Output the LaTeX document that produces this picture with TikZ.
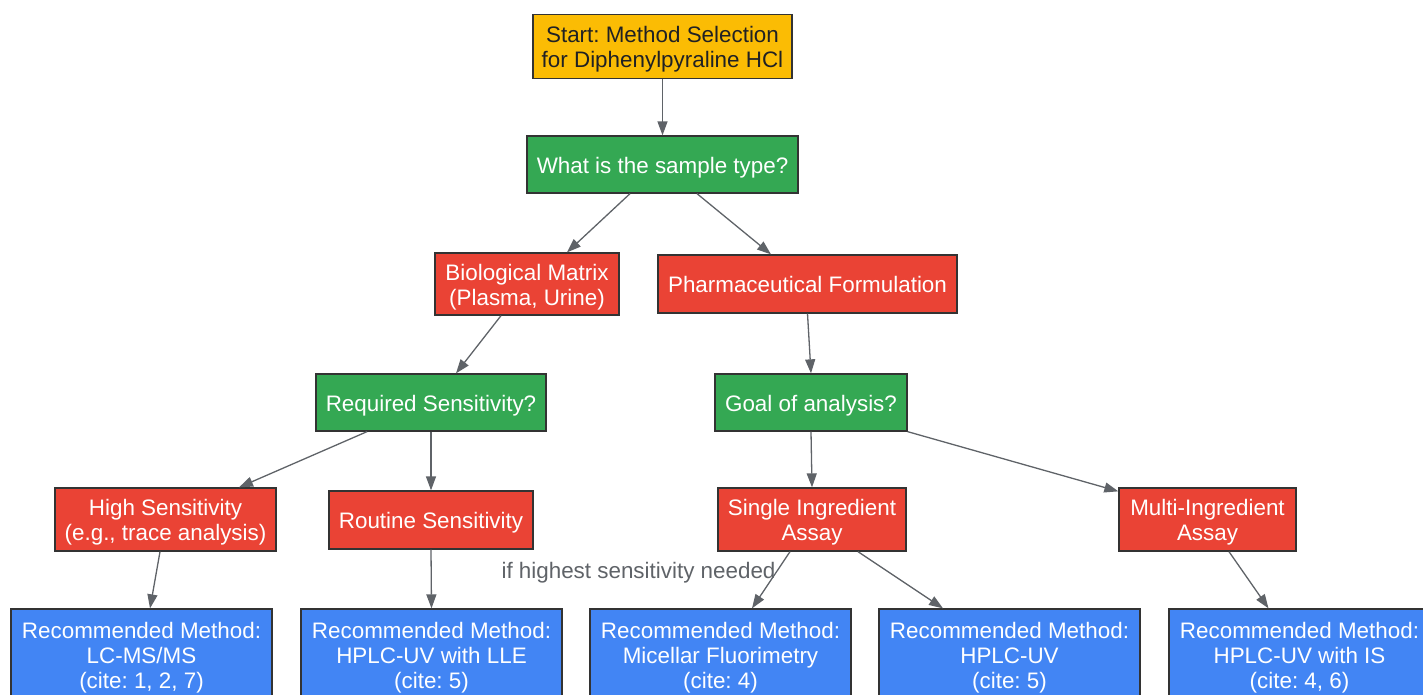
\documentclass[tikz,border=0pt]{standalone}
\usepackage{fontspec}
\setmainfont{Liberation Sans}
\usetikzlibrary{arrows.meta}
\definecolor{amber}{HTML}{FBBC04}
\definecolor{ggreen}{HTML}{34A853}
\definecolor{gred}{HTML}{EA4335}
\definecolor{gblue}{HTML}{4285F4}
\definecolor{edgegray}{HTML}{5F6368}
\definecolor{borderdark}{HTML}{333333}
\definecolor{darktext}{HTML}{202124}
\frenchspacing
\newcommand\myTop{\rule{0pt}{22pt}}
\newcommand\myBot{\rule[-4.8pt]{0pt}{4.8pt}}
\tikzset{
  box/.style={draw=borderdark, line width=1.3pt, rectangle, align=center,
    inner xsep=6pt, inner ysep=0pt,
    font=\fontsize{22.4}{25}\selectfont},
  startbox/.style={box, fill=amber, text=darktext},
  qbox/.style={box, fill=ggreen, text=white},
  optbox/.style={box, fill=gred, text=white},
  resbox/.style={box, fill=gblue, text=white,
    minimum width=261pt, minimum height=91pt},
  conn/.style={draw=edgegray, line width=1.3pt,
    -{Triangle[length=14pt,width=10pt]}},
  elabel/.style={text=edgegray, font=\fontsize{22.4}{25}\selectfont, inner sep=0pt}
}
\begin{document}
\begin{tikzpicture}[x=1pt,y=-1pt]
\useasboundingbox (0,0) rectangle (1423,694);
\clip (0,0) rectangle (1423,694);

\node[startbox, minimum width=259pt, minimum height=64pt] (start) at (662.5,46.5)
  {\myTop Start: Method Selection\\for Diphenylpyraline HCl\myBot};
\node[qbox, minimum width=271pt, minimum height=57pt] (q1) at (662.5,164.5)
  {\myTop What is the sample type?\myBot};
\node[optbox, minimum width=184pt, minimum height=62pt] (bio) at (527,284)
  {\myTop Biological Matrix\\(Plasma, Urine)\myBot};
\node[optbox, minimum width=299pt, minimum height=58pt] (pharm) at (807.5,284)
  {\myTop Pharmaceutical Formulation\myBot};
\node[qbox, minimum width=230pt, minimum height=57pt] (req) at (431,402.5)
  {\myTop Required Sensitivity?\myBot};
\node[qbox, minimum width=192pt, minimum height=57pt] (goal) at (811,402.5)
  {\myTop Goal of analysis?\myBot};
\node[optbox, minimum width=221pt, minimum height=63pt] (high) at (165.5,519.5)
  {\myTop High Sensitivity\\(e.g., trace analysis)\myBot};
\node[optbox, minimum width=204pt, minimum height=58pt] (routine) at (431,520)
  {\myTop Routine Sensitivity\myBot};
\node[optbox, minimum width=188pt, minimum height=63pt] (single) at (812,519.5)
  {\myTop Single Ingredient\\Assay\myBot};
\node[optbox, minimum width=177pt, minimum height=63pt] (multi) at (1207.5,519.5)
  {\myTop Multi-Ingredient\\Assay\myBot};

\node[resbox] (lcms) at (141.5,654.5) {\myTop Recommended Method:\\LC-MS/MS\\(cite: 1, 2, 7)\myBot};
\node[resbox] (lle) at (431.5,654.5) {\myTop Recommended Method:\\HPLC-UV with LLE\\(cite: 5)\myBot};
\node[resbox] (mic) at (720.5,654.5) {\myTop Recommended Method:\\Micellar Fluorimetry\\(cite: 4)\myBot};
\node[resbox] (hplc) at (1009.5,654.5) {\myTop Recommended Method:\\HPLC-UV\\(cite: 5)\myBot};
\node[resbox] (is) at (1299.5,654.5) {\myTop Recommended Method:\\HPLC-UV with IS\\(cite: 4, 6)\myBot};

\node[elabel] (lbl) at (638.5,570) {\myTop if highest sensitivity needed\myBot};

\draw[conn] (start.south) -- (q1.north);
\draw[conn] ([xshift=-32.5pt]q1.south) -- ([xshift=40pt]bio.north);
\draw[conn] ([xshift=34.5pt]q1.south) -- ([xshift=-36.5pt]pharm.north);
\draw[conn] ([xshift=-26pt]bio.south) -- ([xshift=25pt]req.north);
\draw[conn] (pharm.south) -- (goal.north);
\draw[conn] ([xshift=-64pt]req.south) -- ([xshift=73.5pt]high.north);
\draw[conn] (req.south) -- (routine.north);
\draw[conn] (goal.south) -- (single.north);
\draw[conn] (goal.south east) -- ([yshift=-4pt]multi.north west);
\draw[conn] ([xshift=-5.5pt]high.south) -- ([xshift=8.5pt]lcms.north);
\draw[conn] (routine.south) -- (lle.north);
\draw[conn] ([xshift=-22pt]single.south) -- ([xshift=31.5pt]mic.north);
\draw[conn] ([xshift=46pt]single.south) -- ([xshift=-66.5pt]hplc.north);
\draw[conn] ([xshift=21.5pt]multi.south) -- ([xshift=-31pt]is.north);
\end{tikzpicture}
\end{document}
